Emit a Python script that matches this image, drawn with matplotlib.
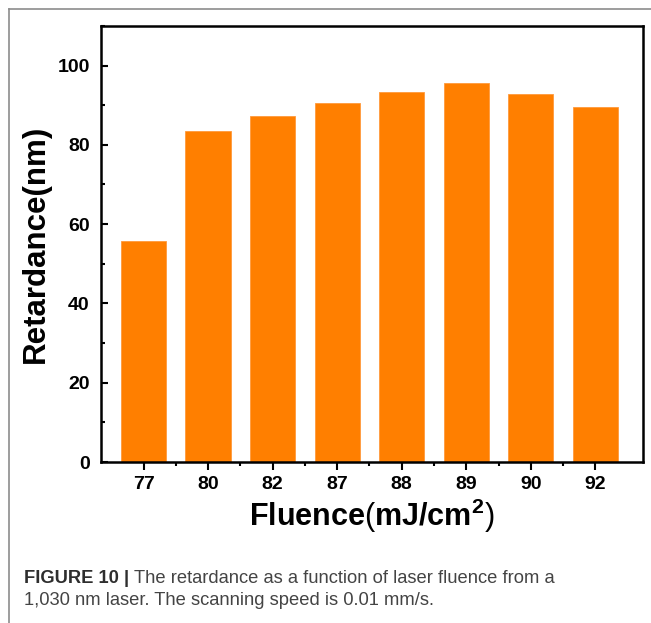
import matplotlib
matplotlib.use('Agg')
import matplotlib.pyplot as plt
from matplotlib.lines import Line2D
from matplotlib.ticker import MultipleLocator, FixedLocator

# fluence settings (mJ/cm^2) and measured retardance (nm)
fluence = ['77', '80', '82', '87', '88', '89', '90', '92']
retardance = [55.7, 83.4, 87.3, 90.6, 93.3, 95.7, 92.8, 89.6]
y_ticks = [0, 20, 40, 60, 80, 100]

caption_head = 'FIGURE 10 | '
caption_body = 'The retardance as a function of laser fluence from a'
caption_line2 = '1,030 nm laser. The scanning speed is 0.01 mm/s.'

plt.rcParams['font.family'] = ['Liberation Sans', 'DejaVu Sans']
plt.rcParams['mathtext.fontset'] = 'custom'
plt.rcParams['mathtext.rm'] = 'Liberation Sans:normal'
plt.rcParams['mathtext.bf'] = 'Liberation Sans:bold'

W, H = 651, 623
fig = plt.figure(figsize=(W / 100, H / 100), dpi=100)
ax = fig.add_axes([0.155, 0.2584, 0.833, 0.7])

x = list(range(len(fluence)))
ax.bar(x, retardance, width=0.7, color='#ff7f00', edgecolor='#ff9a3c', linewidth=0.6)

ax.set_xlim(-0.66, 7.74)
ax.set_ylim(0, 110)
ax.set_xticks(x)
ax.set_xticklabels(fluence, fontsize=14, fontweight='bold')
ax.xaxis.set_minor_locator(FixedLocator([i + 0.5 for i in range(len(fluence) - 1)]))
ax.set_yticks(y_ticks)
ax.set_yticklabels([str(v) for v in y_ticks], fontsize=14, fontweight='bold')
ax.yaxis.set_minor_locator(MultipleLocator(10))

ax.tick_params(axis='x', which='major', direction='out', length=6, width=1.5, pad=4)
ax.tick_params(axis='x', which='minor', direction='out', length=3, width=1.5)
ax.tick_params(axis='y', which='major', direction='in', length=5, width=1.5, pad=8)
ax.tick_params(axis='y', which='minor', direction='in', length=3, width=1.5)
ax.tick_params(top=False, right=False, which='both')
for s in ax.spines.values():
    s.set_linewidth(1.8)

ax.set_ylabel('Retardance(nm)', fontsize=22.5, fontweight='bold', labelpad=5)
ax.set_xlabel(r'Fluence$\mathrm{(}$mJ/cm$^{\mathbf{2}}$$\mathrm{)}$',
              fontsize=22, fontweight='bold', labelpad=3)

# frame lines around the figure panel
fig.add_artist(Line2D([9 / W, 1], [1 - 8.5 / H, 1 - 8.5 / H], color='#8c8c8c', linewidth=1.2))
fig.add_artist(Line2D([9 / W, 9 / W], [0, 1 - 8.5 / H], color='#8c8c8c', linewidth=1.2))

# caption below the chart: bold head followed by regular text on the same baseline
y1 = 1 - 583 / H
head = fig.text(24 / W, y1, caption_head, fontsize=13.2, fontweight='bold',
                color='#2e2e2e', va='baseline')
fig.canvas.draw()
bb = head.get_window_extent(renderer=fig.canvas.get_renderer())
fig.text(bb.x1 / W, y1, caption_body, fontsize=13.2, color='#444444', va='baseline')
fig.text(24 / W, 1 - 605 / H, caption_line2, fontsize=13.2, color='#444444', va='baseline')

fig.savefig('out.png', dpi=100)
